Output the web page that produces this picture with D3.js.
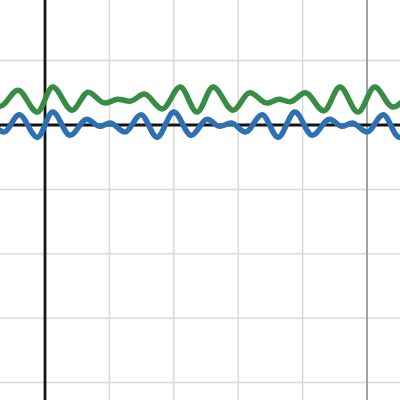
<!DOCTYPE html>
<html>
<head>
<meta charset="utf-8">
<script src="https://cdn.jsdelivr.net/npm/d3@7.9.0/dist/d3.min.js"></script>
<style>
  html, body { margin: 0; padding: 0; background: #fff; }
  svg { display: block; }
</style>
</head>
<body>
<svg id="plot" width="400" height="400"></svg>
<script>
// ----- data (graph units) -----
const gridX = [-1, 1, 2, 3, 4, 6];
const gridY = [1, -1, -2, -3, -4];
const markerX = 5;

// blue curve: local extrema, x and y
const blueX = [-1.02, -0.87, -0.64, -0.40, -0.12, 0.12, 0.39, 0.65, 0.85, 1.01, 1.24,
  1.49, 1.74, 2.00, 2.27, 2.52, 2.71, 2.89, 3.11, 3.37, 3.62, 3.88, 4.15, 4.42, 4.61,
  4.77, 5.00, 5.25, 5.50, 5.76];
const blueY = [-0.02, 0.03, -0.11, 0.16, -0.19, 0.20, -0.16, 0.09, -0.02, 0.03, -0.11,
  0.16, -0.19, 0.20, -0.16, 0.09, -0.02, 0.03, -0.11, 0.16, -0.19, 0.20, -0.16, 0.09,
  -0.02, 0.03, -0.11, 0.16, -0.19, 0.20];

// green curve: local extrema, x and y
const greenX = [-0.98, -0.70, -0.42, -0.12, 0.12, 0.42, 0.67, 0.93, 1.13, 1.32, 1.54,
  1.82, 2.10, 2.36, 2.61, 2.92, 3.18, 3.45, 3.63, 3.80, 4.04, 4.33, 4.58, 4.86, 5.12,
  5.40, 5.67];
const greenY = [0.57, 0.29, 0.54, 0.20, 0.59, 0.23, 0.51, 0.34, 0.40, 0.37, 0.48,
  0.25, 0.59, 0.20, 0.59, 0.23, 0.50, 0.34, 0.40, 0.36, 0.50, 0.22, 0.59, 0.20, 0.59,
  0.28, 0.51];

// ----- scales -----
const W = 400, H = 400;
const x = d3.scaleLinear().domain([-0.699, 5.512]).range([0, W]);
const y = d3.scaleLinear().domain([1.941, -4.270]).range([0, H]);

const svg = d3.select("#plot");

// grid
svg.append("g").selectAll("line")
  .data(gridX).join("line")
  .attr("x1", d => x(d)).attr("x2", d => x(d))
  .attr("y1", 0).attr("y2", H)
  .attr("stroke", "#d9d9d9").attr("stroke-width", 1.5);

svg.append("g").selectAll("line")
  .data(gridY).join("line")
  .attr("x1", 0).attr("x2", W)
  .attr("y1", d => y(d)).attr("y2", d => y(d))
  .attr("stroke", "#d9d9d9").attr("stroke-width", 1.5);

// the grey vertical line
svg.append("line")
  .attr("x1", x(markerX)).attr("x2", x(markerX))
  .attr("y1", 0).attr("y2", H)
  .attr("stroke", "#999").attr("stroke-width", 1.8);

// axes
svg.append("line")
  .attr("x1", x(0)).attr("x2", x(0)).attr("y1", 0).attr("y2", H)
  .attr("stroke", "#151515").attr("stroke-width", 2.8);
svg.append("line")
  .attr("x1", 0).attr("x2", W).attr("y1", y(0)).attr("y2", y(0))
  .attr("stroke", "#151515").attr("stroke-width", 2.8);

// curves
const line = d3.line()
  .x(d => x(d[0]))
  .y(d => y(d[1]))
  .curve(d3.curveMonotoneX);

const series = [
  { xs: greenX, ys: greenY, color: "#388c46" },
  { xs: blueX, ys: blueY, color: "#2d70b3" }
];

svg.append("g").selectAll("path")
  .data(series).join("path")
  .attr("d", s => line(d3.zip(s.xs, s.ys)))
  .attr("fill", "none")
  .attr("stroke", s => s.color)
  .attr("stroke-width", 5.5)
  .attr("stroke-linejoin", "round")
  .attr("stroke-linecap", "round");
</script>
</body>
</html>
